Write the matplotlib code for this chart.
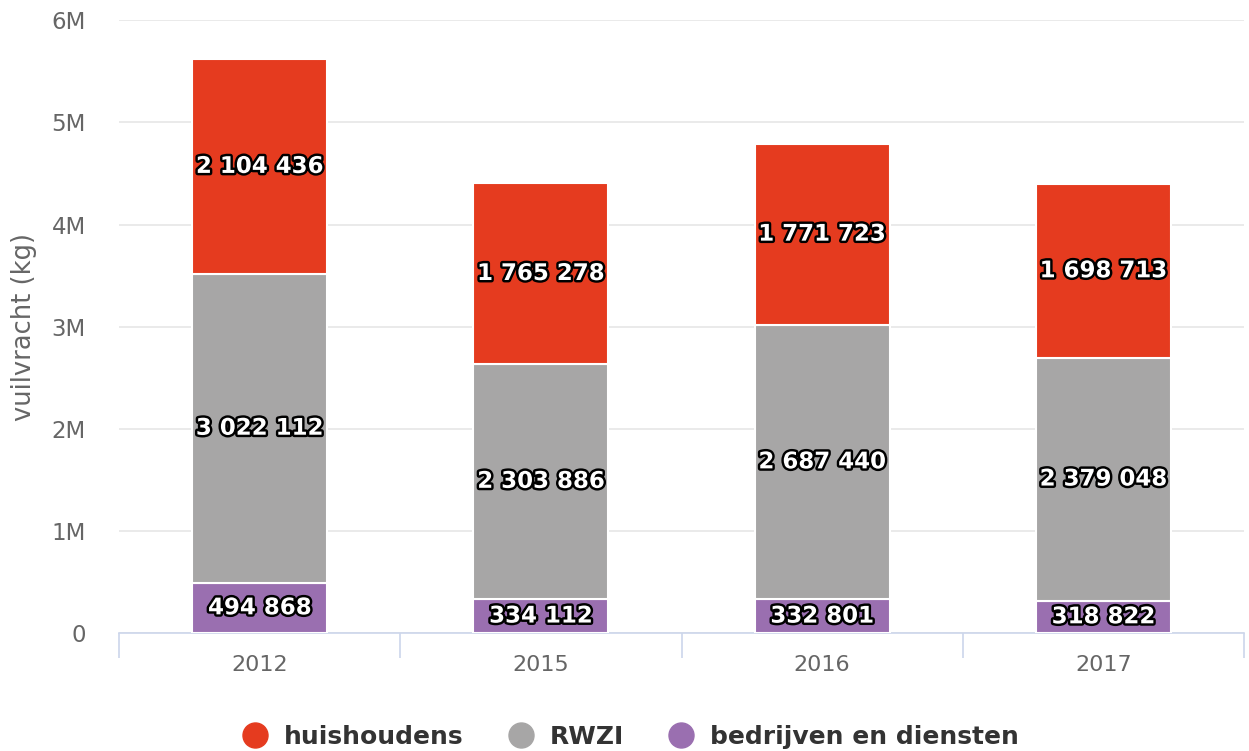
import matplotlib.pyplot as plt
import matplotlib.patheffects as pe
from matplotlib.lines import Line2D
import numpy as np

years = ["2012", "2015", "2016", "2017"]
bedrijven = [494868, 334112, 332801, 318822]
rwzi = [3022112, 2303886, 2687440, 2379048]
huishoudens = [2104436, 1765278, 1771723, 1698713]

series = [
    ("bedrijven en diensten", bedrijven, "#9a6fb0"),
    ("RWZI", rwzi, "#a7a6a6"),
    ("huishoudens", huishoudens, "#e53b1f"),
]


def fmt(v):
    return f"{v:,}".replace(",", " ")


fig = plt.figure(figsize=(12.49, 7.51), dpi=100)
ax = fig.add_axes([0.0953, 0.157, 0.9007, 0.816])

x = np.arange(len(years))
bottom = np.zeros(len(years))
for name, vals, color in series:
    vals = np.array(vals, dtype=float)
    ax.bar(x, vals, bottom=bottom, width=0.48, color=color,
           edgecolor="white", linewidth=1.5, zorder=3)
    for xi, b, v in zip(x, bottom, vals):
        ax.text(xi, b + v / 2, fmt(int(v)), ha="center", va="center",
                fontsize=16.5, fontweight="bold", color="white", zorder=4,
                path_effects=[pe.withStroke(linewidth=3.5, foreground="black")])
    bottom += vals

ax.set_xlim(-0.5, len(years) - 0.5)
ax.set_ylim(0, 6e6)
ax.set_yticks(np.arange(0, 7e6, 1e6))
ax.set_yticklabels(["0"] + [f"{i}M" for i in range(1, 7)])
ax.set_xticks(x)
ax.set_xticklabels(years)
ax.set_xticks(np.arange(-0.5, len(years), 1), minor=True)
ax.tick_params(axis="x", which="major", length=0, labelsize=16, colors="#666666", pad=16)
ax.tick_params(axis="x", which="minor", length=18, color="#ccd6eb", width=1.2)
ax.tick_params(axis="y", length=0, labelsize=16.5, colors="#666666", pad=24)
ax.grid(axis="y", color="#e6e6e6", linewidth=1.2, zorder=0)
for s in ["top", "right", "left"]:
    ax.spines[s].set_visible(False)
ax.spines["bottom"].set_color("#ccd6eb")
ax.spines["bottom"].set_linewidth(1.2)
ax.set_ylabel("vuilvracht (kg)", fontsize=18.5, color="#666666", labelpad=10)

handles = [Line2D([], [], marker="o", linestyle="", markersize=18, color=c)
           for _, _, c in reversed(series)]
labels = [n for n, _, _ in reversed(series)]
leg = fig.legend(handles, labels, loc="lower center", bbox_to_anchor=(0.5, -0.027),
                 ncol=3, frameon=False, prop={"size": 18, "weight": "bold"},
                 handletextpad=0.15, columnspacing=1.3)
for t in leg.get_texts():
    t.set_color("#333333")

fig.savefig("out.png", dpi=100)
